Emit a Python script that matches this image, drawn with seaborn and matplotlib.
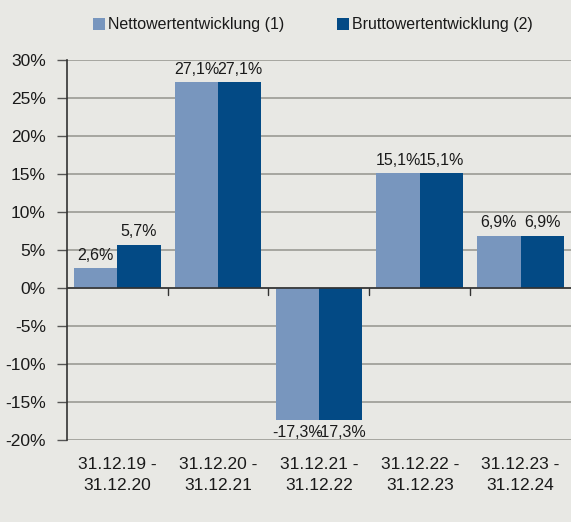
import numpy as np
import pandas as pd
import seaborn as sns
from matplotlib import pyplot as plt

# chart data
periods = ["31.12.19 -\n31.12.20", "31.12.20 -\n31.12.21", "31.12.21 -\n31.12.22",
           "31.12.22 -\n31.12.23", "31.12.23 -\n31.12.24"]
netto = [2.6, 27.1, -17.3, 15.1, 6.9]
brutto = [5.7, 27.1, -17.3, 15.1, 6.9]
series = ["Nettowertentwicklung (1)", "Bruttowertentwicklung (2)"]
y_ticks = [-20, -15, -10, -5, 0, 5, 10, 15, 20, 25, 30]

df = pd.DataFrame({
    "period": periods * 2,
    "value": netto + brutto,
    "series": [series[0]] * len(periods) + [series[1]] * len(periods),
})

bg = "#e8e8e4"
sns.set_theme(style="white")
plt.rcParams["font.family"] = ["Liberation Sans", "DejaVu Sans"]

fig = plt.figure(figsize=(5.71, 5.22), dpi=100, facecolor=bg)
ax = fig.add_axes([0.117, 0.157, 0.883, 0.728], facecolor=bg)

sns.barplot(data=df, x="period", y="value", hue="series", hue_order=series,
            palette=["#7896be", "#034a85"], width=0.86, saturation=1,
            edgecolor="none", ax=ax, zorder=3)

# data labels
for cont in ax.containers:
    ax.bar_label(cont, labels=[f"{v:.1f}%".replace(".", ",") for v in cont.datavalues],
                 padding=4, fontsize=11.5, color="#1a1a1a")

ax.set_ylim(-20, 30)
ax.set_xlim(-0.5, len(periods) - 0.5)
ax.set_yticks(y_ticks)
ax.set_yticklabels([f"{t}%" for t in y_ticks], fontsize=12.5, color="#1a1a1a")
ax.yaxis.grid(True, color="#9a9a94", linewidth=1.2, zorder=0)
ax.tick_params(axis="y", left=True, length=7, width=1, color="#555555", pad=8)

ax.set_xticks(range(len(periods)))
ax.set_xticklabels(periods, fontsize=12.5, color="#1a1a1a", linespacing=1.55)
ax.tick_params(axis="x", bottom=False, pad=6)
ax.set_xlabel("")
ax.set_ylabel("")

for s in ["top", "right", "bottom"]:
    ax.spines[s].set_visible(False)
ax.spines["left"].set_color("#333333")
ax.spines["left"].set_linewidth(1.2)

# zero axis with small ticks between groups
ax.axhline(0, color="#333333", linewidth=1.2, zorder=4)
for b in np.arange(0.5, len(periods) - 0.5, 1.0):
    ax.plot([b, b], [0, -0.9], color="#333333", linewidth=1, zorder=4, clip_on=False)

leg = ax.legend(loc="lower center", bbox_to_anchor=(0.488, 1.035), ncol=2, frameon=False,
                fontsize=11.5, handlelength=0.75, handleheight=0.75, handletextpad=0.2,
                columnspacing=3.3)
for t in leg.get_texts():
    t.set_color("#1a1a1a")

fig.savefig("out.png", dpi=100, facecolor=bg)
